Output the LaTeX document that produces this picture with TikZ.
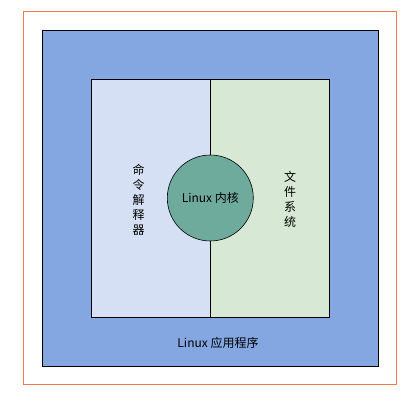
\documentclass[tikz,border=0pt]{standalone}
\usepackage{fontspec}
\setmainfont{Liberation Sans}
\newfontfamily\cjk{Noto Sans CJK SC}
\usepackage{tikz}
\definecolor{frameorange}{HTML}{F47A4E}
\definecolor{appblue}{HTML}{84A7E1}
\definecolor{shellblue}{HTML}{D6E0F4}
\definecolor{fsgreen}{HTML}{D7E8D4}
\definecolor{kernelteal}{HTML}{6FAB9D}

\begin{document}
\begin{tikzpicture}[x=1pt, y=-1pt, font=\cjk\fontsize{12}{15}\selectfont]

        \useasboundingbox (0,0) rectangle (413,403);

        % Outer frame
        \draw[frameorange, line width=0.8pt] (23.3,11.3) rectangle (396.3,384.3);

        % Linux applications
        \filldraw[fill=appblue, line width=0.8pt] (42.3,30.7) rectangle (378.3,366);
        \node (apps) at (218,343) {Linux 应用程序};

        % Shell
        \filldraw[fill=shellblue, line width=0.6pt] (91.7,79.3) rectangle (210.3,317);
        \node[align=center] (shell) at (138.5,200) {命\\令\\解\\释\\器};

        % File system
        \filldraw[fill=fsgreen, line width=0.6pt] (210.3,79.3) rectangle (329.3,317);
        \node[align=center] (fs) at (290,199) {文\\件\\系\\统};

        % Kernel
        \node[circle, draw, fill=kernelteal, line width=0.6pt, minimum size=86pt, inner sep=0pt]
        (kernel) at (210.3,198) {Linux 内核};

\end{tikzpicture}
\end{document}
